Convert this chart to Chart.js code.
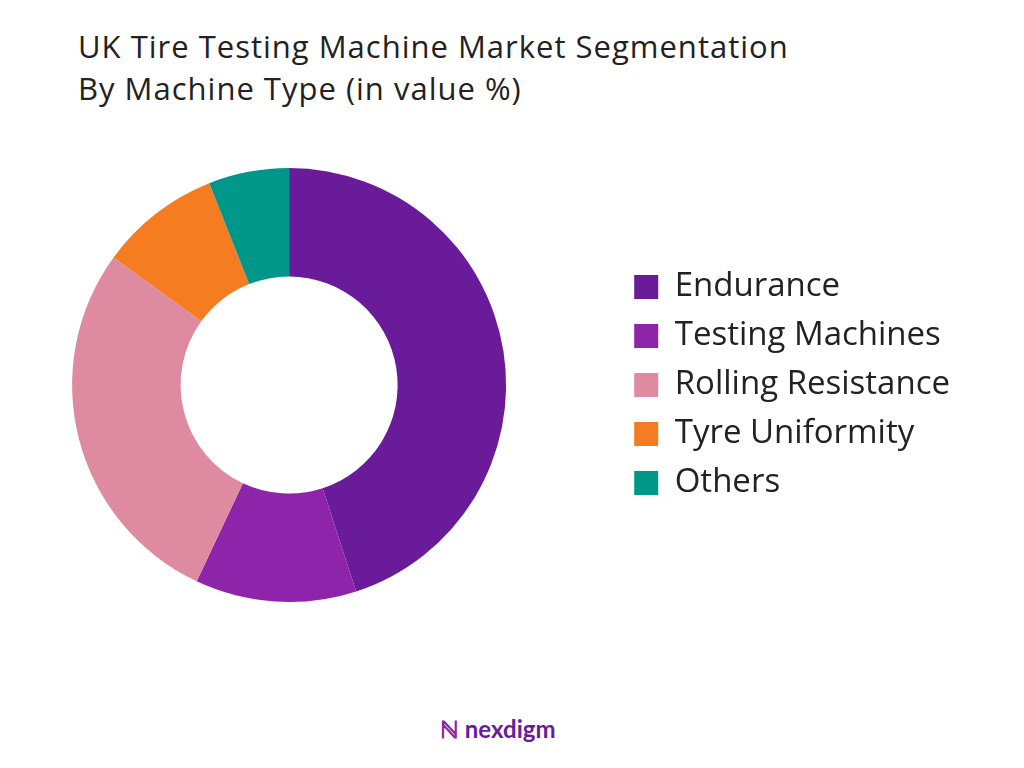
<!DOCTYPE html>
<html><head><meta charset="utf-8">
<script src="https://cdn.jsdelivr.net/npm/chart.js@4"></script>
<style>
body{margin:0;background:#fff;width:1024px;height:768px;overflow:hidden;font-family:"Open Sans",sans-serif;}
#title{position:absolute;left:78px;top:25px;font-size:31px;letter-spacing:1px;line-height:42px;color:#222;}
#wrap{position:absolute;left:-40px;top:150px;width:1000px;height:470px;}
#logo{position:absolute;left:440px;top:712px;font-size:24px;font-weight:700;color:#6a1b9a;font-family:Lato,sans-serif;}
</style></head><body>
<div id="title">UK Tire Testing Machine Market Segmentation<br>By Machine Type (in value %)</div>
<div id="wrap"><canvas id="c"></canvas></div>
<div id="logo"><span style="color:#8e24aa">ℕ</span> nexdigm</div>
<script>
const categories=["Endurance","Testing Machines","Rolling Resistance","Tyre Uniformity","Others"];
const values=[45,12,28,9,6];
const colors=["#6a1b9a","#8e24aa","#de8aa0","#f57c20","#009688"];
new Chart(document.getElementById('c'),{type:'doughnut',
data:{labels:categories,datasets:[{data:values,backgroundColor:colors,borderWidth:0}]},
options:{responsive:true,maintainAspectRatio:false,animation:false,cutout:'50%',
layout:{padding:{top:18,bottom:18}},
plugins:{tooltip:{enabled:false},legend:{position:'right',labels:{font:{size:33,family:'"Open Sans"'},color:'#222',boxWidth:24,boxHeight:24,padding:16}}}}});
</script></body></html>
